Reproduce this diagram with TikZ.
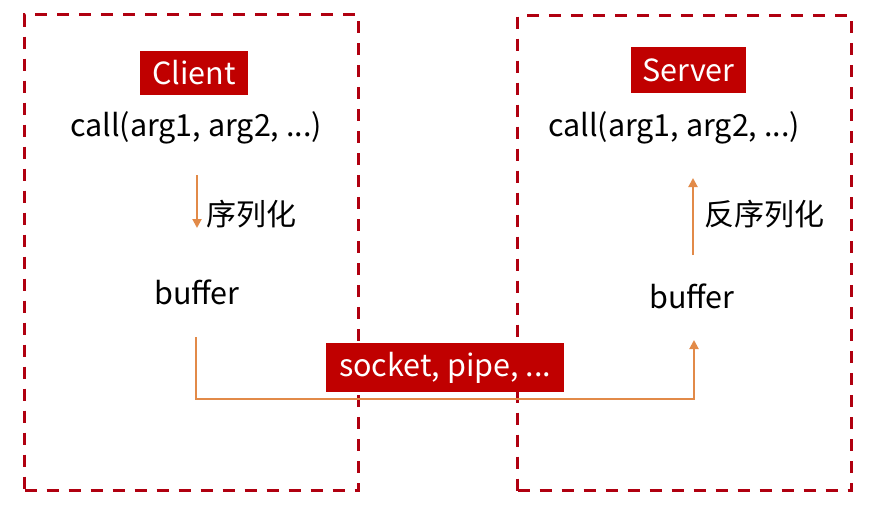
\documentclass[tikz,border=0pt]{standalone}
\usepackage{fontspec}
\setmainfont{Noto Sans CJK SC}
\usetikzlibrary{arrows.meta}
\definecolor{boxred}{RGB}{176,0,16}
\definecolor{labred}{RGB}{192,0,0}
\definecolor{flow}{RGB}{226,138,72}
\tikzset{
  x=1pt,y=1pt,
  frame/.style={draw=boxred,line width=3pt,dash pattern=on 12pt off 10pt},
  tag/.style={fill=labred,text=white,inner sep=0pt,font=\fontsize{30.5}{34}\selectfont},
  txt/.style={inner sep=0pt,font=\fontsize{30.5}{34}\selectfont},
  cn/.style={inner sep=0pt,font=\fontsize{30}{34}\selectfont},
  flowline/.style={draw=flow,line width=2pt,-{Triangle[width=9pt,length=9pt]}}
}
\begin{document}
\begin{tikzpicture}
\useasboundingbox (0,0) rectangle (878,-525);
\fill[white] (0,0) rectangle (878,-525);
% frames
\node[frame,minimum width=334pt,minimum height=476pt,anchor=north west] (lbox) at (23,-13) {};
\node[frame,minimum width=334pt,minimum height=475pt,anchor=north west] (rbox) at (516,-14) {};
% labels
\node[tag,minimum width=108pt,minimum height=44pt] (client) at (194,-73) {Client};
\node[tag,minimum width=115pt,minimum height=46pt] (server) at (688.5,-70) {Server};
% texts
\node[txt] (callL) at (196,-128) {call(arg1, arg2, ...)};
\node[txt] (callR) at (674,-128) {call(arg1, arg2, ...)};
\node[txt] (bufL) at (197,-292) {buffer};
\node[txt] (bufR) at (692,-296) {buffer};
% serialize arrows
\coordinate (aLs) at (197,-175);
\coordinate (aLe) at (197,-228);
\coordinate (aRs) at (693,-255);
\coordinate (aRe) at (693,-178);
\draw[flowline] (aLs) -- (aLe);
\draw[flowline] (aRs) -- (aRe);
\node[cn,anchor=west] (ser) at (206,-214) {序列化};
\node[cn,anchor=west] (deser) at (704,-214) {反序列化};
% transport
\coordinate (tS) at (196,-337);
\coordinate (tE) at (694,-340);
\draw[flowline] (tS) |- (694,-399) -- (tE);
\node[tag,minimum width=238pt,minimum height=49pt] (sock) at (445,-367.5) {socket, pipe, ...};
\end{tikzpicture}
\end{document}
